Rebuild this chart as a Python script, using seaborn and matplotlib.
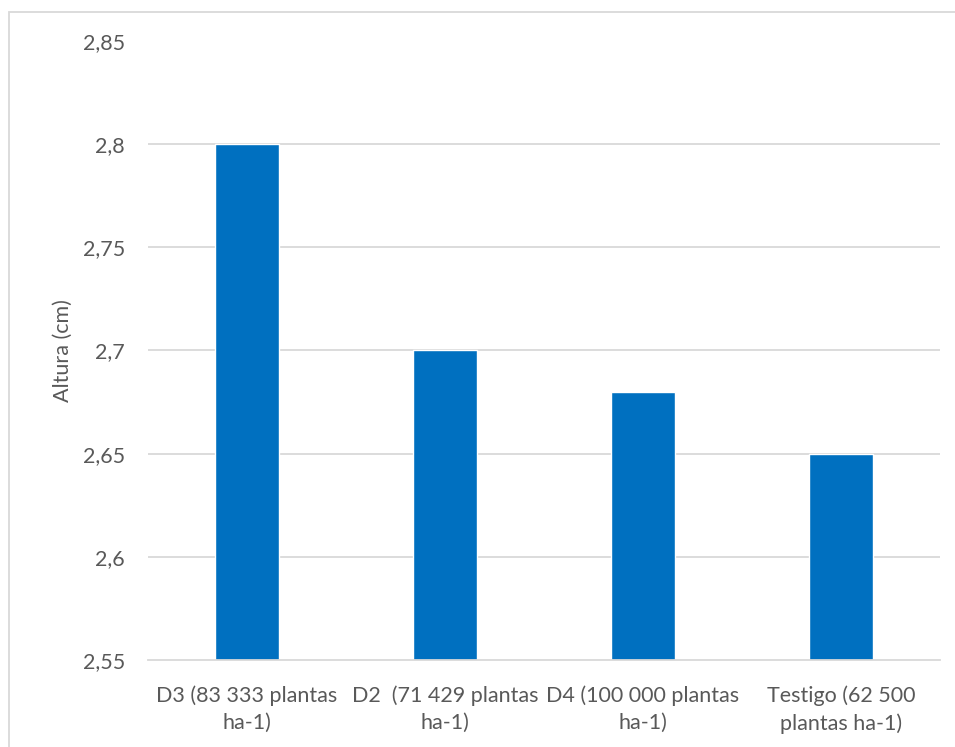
import matplotlib.pyplot as plt
import matplotlib.patches as mpatches
import matplotlib.ticker as mticker
import pandas as pd
import seaborn as sns

# data
categories = [
    "D3 (83 333 plantas\nha-1)",
    "D2  (71 429 plantas\nha-1)",
    "D4 (100 000 plantas\nha-1)",
    "Testigo (62 500\nplantas ha-1)",
]
altura = [2.80, 2.70, 2.68, 2.65]
y_ticks = [2.55, 2.60, 2.65, 2.70, 2.75, 2.80, 2.85]

df = pd.DataFrame({"categoria": categories, "altura": altura})

sns.set_theme(style="white")
plt.rcParams["font.family"] = ["Lato", "DejaVu Sans"]

text_color = "#595959"
grid_color = "#D9D9D9"
fsize = 15.5

fig = plt.figure(figsize=(9.55, 7.47), dpi=100)
ax = fig.add_axes([148 / 955, 1 - 660 / 747, 792 / 955, 619 / 747])

# chart area border (Excel style)
fig.patches.append(
    mpatches.Rectangle(
        (9 / 955, -0.05), 1.0, 1 - 12 / 747 + 0.05,
        transform=fig.transFigure, fill=False,
        edgecolor=grid_color, linewidth=1.3, zorder=0,
    )
)

sns.barplot(data=df, x="categoria", y="altura", color="#0070C0",
            width=0.32, saturation=1, ax=ax, zorder=2)

ax.set_ylim(2.55, 2.85)
ax.yaxis.set_major_locator(mticker.FixedLocator(y_ticks))
ax.yaxis.set_major_formatter(
    mticker.FuncFormatter(lambda v, _: f"{v:.2f}".rstrip("0").rstrip(".").replace(".", ","))
)

# horizontal gridlines, no line at the top value
for t in y_ticks[1:-1]:
    ax.axhline(t, color=grid_color, linewidth=1.3, zorder=1)

for side in ["top", "right", "left"]:
    ax.spines[side].set_visible(False)
ax.spines["bottom"].set_color(grid_color)
ax.spines["bottom"].set_linewidth(1.3)

ax.tick_params(axis="both", length=0, labelsize=fsize, colors=text_color)
ax.tick_params(axis="y", pad=16.5)
ax.tick_params(axis="x", pad=18)
for lbl in ax.get_xticklabels():
    lbl.set_linespacing(1.45)
ax.set_xlabel("")
ax.set_ylabel("Altura (cm)", fontsize=fsize, color=text_color)
ax.yaxis.set_label_coords((73 - 148) / 792, 0.5)

fig.savefig("out.png", dpi=100)
